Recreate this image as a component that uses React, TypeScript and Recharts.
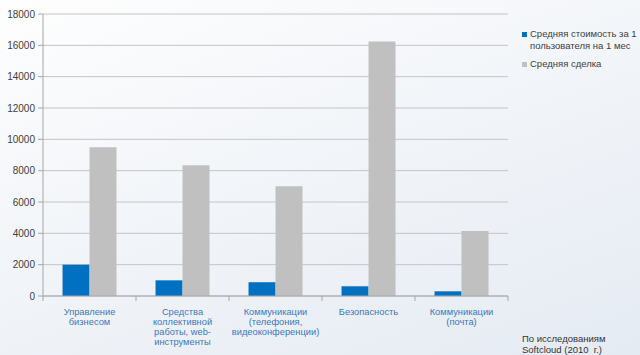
import React from 'react';
import { BarChart, Bar, XAxis, YAxis, CartesianGrid } from 'recharts';

const categories = [
  'Управление\nбизнесом',
  'Средства\nколлективной\nработы, web-\nинструменты',
  'Коммуникации\n(телефония,\nвидеоконференции)',
  'Безопасность',
  'Коммуникации\n(почта)',
];
const seriesNames = ['Средняя стоимость за 1 пользователя на 1 мес', 'Средняя сделка'];
const seriesColors = ['#0070c0', '#c0c0c0'];
const avgCost = [2000, 1000, 880, 620, 300];
const avgDeal = [9500, 8350, 7000, 16250, 4150];
const yTicks = [0, 2000, 4000, 6000, 8000, 10000, 12000, 14000, 16000, 18000];
const sourceLines = ['По исследованиям', 'Softcloud (2010  г.)'];

const data = categories.map((c, i) => ({ cat: c, cost: avgCost[i], deal: avgDeal[i] }));

const FONT = '"Liberation Sans", Arial, sans-serif';

const CatTick = (props: any) => {
  const { x, y, payload, width, visibleTicksCount, index } = props;
  const band = typeof width === 'number' && visibleTicksCount ? width / visibleTicksCount : 93;
  const half = band / 2;
  const lines = String(payload.value).split('\n');
  return (
    <g>
      <line x1={x - half} x2={x - half} y1={y} y2={y + 5} stroke="#a6a6a6" />
      {index === visibleTicksCount - 1 && (
        <line x1={x + half} x2={x + half} y1={y} y2={y + 5} stroke="#a6a6a6" />
      )}
      <text x={x} y={y + 18.5} textAnchor="middle" fill="#3a78c0" fontSize={9.3} fontFamily={FONT}>
        {lines.map((l, i) => (
          <tspan key={i} x={x} dy={i === 0 ? 0 : 10.2}>{l}</tspan>
        ))}
      </text>
    </g>
  );
};

export default function App() {
  return (
    <div
      style={{
        position: 'absolute',
        left: 0,
        top: 0,
        width: 640,
        height: 355,
        background: 'linear-gradient(160deg, #fefefe 0%, #f2f5f9 45%, #e5ebf3 100%)',
        fontFamily: FONT,
      }}
    >
      <BarChart
        width={640}
        height={355}
        data={data}
        margin={{ top: 14, right: 132, bottom: 9, left: 0 }}
        barCategoryGap="21%"
        barGap={0}
      >
        <CartesianGrid vertical={false} stroke="#c4c4c4" />
        <XAxis
          dataKey="cat"
          height={50}
          interval={0}
          tickLine={false}
          tickSize={0}
          tickMargin={0}
          axisLine={{ stroke: '#a6a6a6' }}
          tick={<CatTick />}
        />
        <YAxis
          width={43}
          domain={[0, 18000]}
          ticks={yTicks}
          interval={0}
          tickSize={5}
          tickMargin={3}
          axisLine={{ stroke: '#a6a6a6' }}
          tickLine={{ stroke: '#a6a6a6' }}
          tick={{ fontSize: 10, fill: '#404040', fontFamily: FONT }}
        />
        <Bar dataKey="cost" name={seriesNames[0]} fill={seriesColors[0]} isAnimationActive={false} />
        <Bar dataKey="deal" name={seriesNames[1]} fill={seriesColors[1]} isAnimationActive={false} />
      </BarChart>
      <div
        style={{
          position: 'absolute',
          left: 522,
          top: 28,
          fontSize: 9.5,
          lineHeight: '12px',
          color: '#404040',
        }}
      >
        {seriesNames.map((n, i) => (
          <div key={i} style={{ display: 'flex', alignItems: 'flex-start', marginBottom: 6 }}>
            <div style={{ width: 5, height: 5, background: seriesColors[i], marginTop: 4, marginRight: 3, flex: 'none' }} />
            <div style={{ width: 110 }}>{n}</div>
          </div>
        ))}
      </div>
      <div
        style={{
          position: 'absolute',
          left: 522,
          top: 334,
          fontSize: 9.5,
          lineHeight: '10.5px',
          color: '#333',
          whiteSpace: 'pre',
        }}
      >
        {sourceLines.join('\n')}
      </div>
    </div>
  );
}
